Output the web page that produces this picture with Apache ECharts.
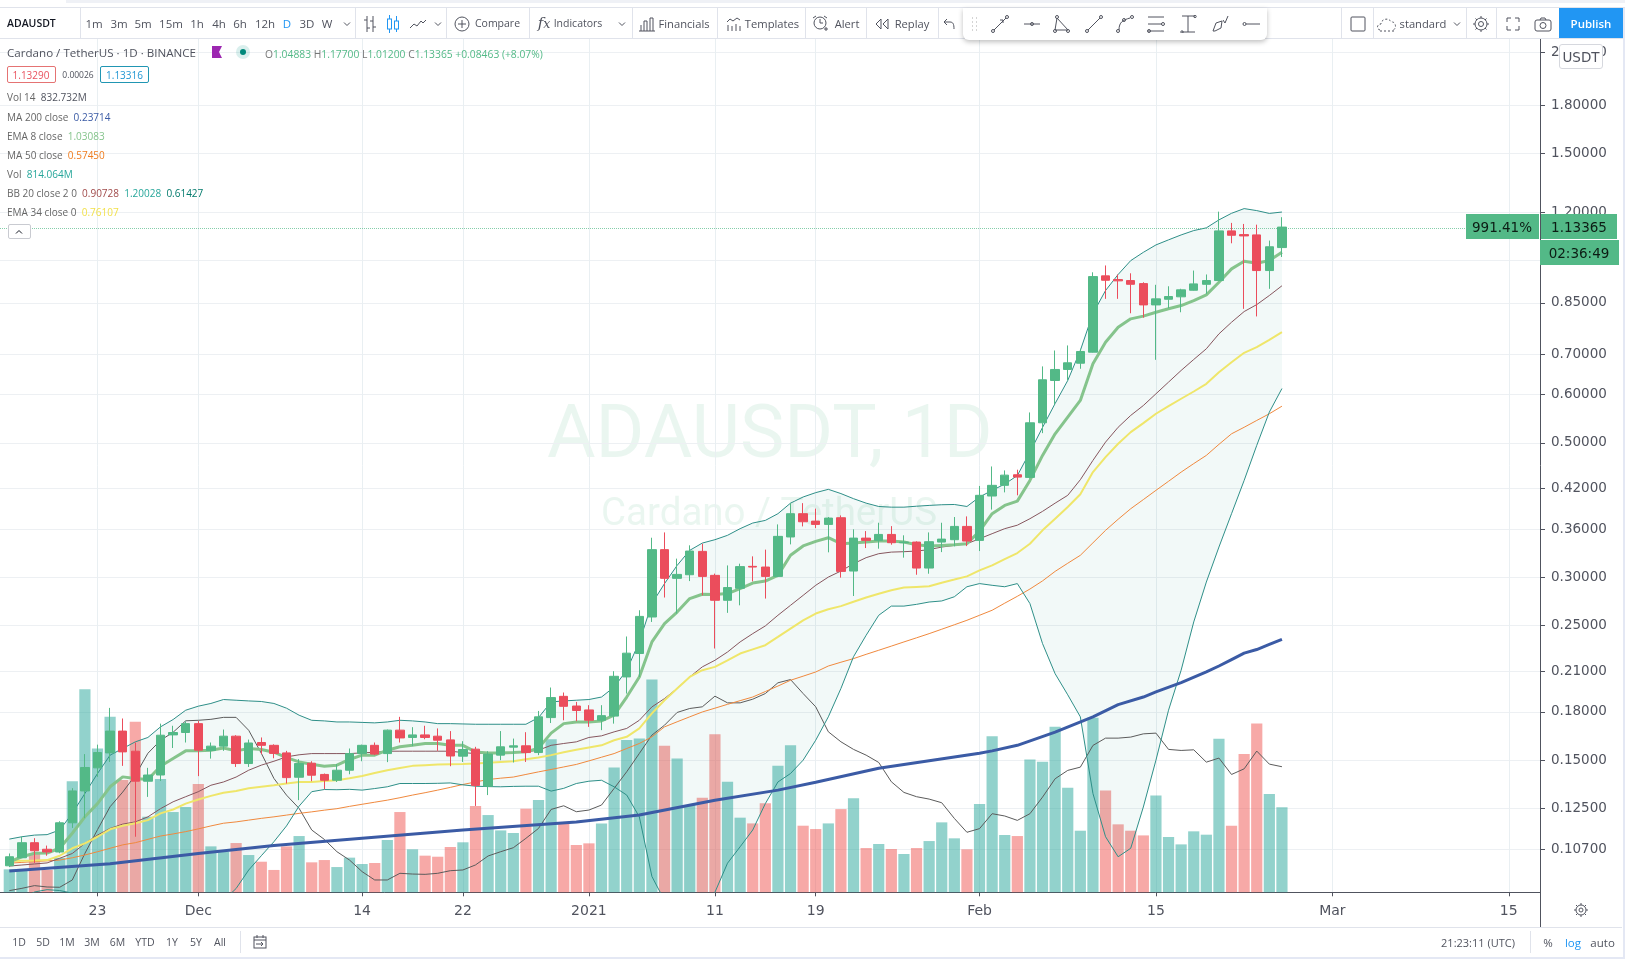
<!DOCTYPE html>
<html><head><meta charset="utf-8"><title>ADAUSDT 1D</title>
<script src="https://cdn.jsdelivr.net/npm/echarts@6/dist/echarts.min.js"></script>
<style>
html,body{margin:0;padding:0;background:#fff;width:1625px;height:959px;overflow:hidden}
#chart{position:absolute;left:0;top:0;width:1625px;height:959px}
#ui{position:absolute;left:0;top:0;width:1625px;height:959px;pointer-events:none;font-family:"Open Sans",sans-serif;color:#50535e}
#ui>*{position:absolute;white-space:nowrap}
#ui svg{display:block}
</style></head><body>
<div id="chart"></div><div id="ui"></div>
<script>
const firstDay = Date.UTC(2020, 10, 16);
const DAY = 86400000;

const opens = [.1004,.1035,.1096,.1069,.1058,.1182,.1334,.1456,.1541,.1674,
.1551,.1384,.1417,.1650,.1665,.1722,.1555,.1581,.1642,.1480,
.1603,.1586,.1541,.1405,.1482,.1420,.1389,.1443,.1537,.1586,
.1537,.1680,.1634,.1650,.1642,.1619,.1522,.1563,.1358,.1528,
.1575,.1583,.1543,.1762,.1910,.1841,.1814,.1744,.1772,.2056,
.2247,.2581,.3333,.2989,.3030,.3311,.3023,.2750,.2878,.3128,
.3120,.3011,.3497,.3820,.3714,.3668,.3762,.3073,.3482,.3452,
.3531,.3422,.3430,.3108,.3430,.3461,.3640,.3452,.4085,.4254,
.4428,.4384,.5394,.6333,.6604,.6762,.7051,.9420,.9288,.9254,
.9148,.8437,.8620,.8700,.8920,.9124,.9254,1.1174,1.1017,1.1005,
.9612,1.04883];
const closes = [.1039,.1096,.1063,.1058,.1182,.1334,.1458,.1543,.1674,.1547,
.1384,.1417,.1648,.1665,.1722,.1557,.1581,.1642,.1480,.1600,
.1586,.1538,.1403,.1480,.1416,.1389,.1443,.1537,.1586,.1534,
.1680,.1631,.1650,.1634,.1617,.1523,.1561,.1362,.1534,.1577,
.1583,.1543,.1767,.1901,.1839,.1810,.1744,.1775,.2061,.2250,
.2587,.3333,.2989,.3034,.3315,.3011,.2750,.2886,.3125,.3120,
.3011,.3505,.3820,.3705,.3668,.3757,.3069,.3482,.3452,.3531,
.3422,.3430,.3108,.3435,.3469,.3640,.3443,.4096,.4254,.4422,
.4389,.5394,.6350,.6604,.6773,.7070,.9395,.9265,.9244,.9124,
.8437,.8633,.8710,.8934,.9138,.9254,1.1174,1.0990,1.0962,.9612,
1.0520,1.13365];
const highs = [.1052,.1121,.1115,.1084,.1189,.1348,.1534,.1590,.1828,.1756,
.1603,.1456,.1722,.1708,.1737,.1739,.1603,.1684,.1648,.1621,
.1634,.1592,.1553,.1505,.1493,.1425,.1477,.1567,.1590,.1603,
.1684,.1767,.1699,.1708,.1691,.1674,.1611,.1577,.1551,.1674,
.1627,.1667,.1807,.1975,.1938,.1870,.1847,.1847,.2101,.2397,
.2648,.3487,.3558,.3221,.3388,.3408,.3043,.3139,.3160,.3249,
.3333,.3668,.3976,.3976,.3894,.3772,.3795,.3600,.3576,.3691,
.3644,.3519,.3439,.3558,.3691,.3772,.3781,.4244,.4570,.4502,
.4514,.5610,.6681,.7097,.7234,.7143,.9549,.9800,.9470,.9513,
.9194,.9106,.9056,.8970,.9612,.9470,1.2020,1.1518,1.1472,1.1441,
1.0770,1.17700];
const lows = [.0999,.1034,.1015,.1043,.1053,.1159,.1203,.1407,.1489,.1467,
.1121,.1304,.1385,.1570,.1603,.1411,.1508,.1553,.1461,.1461,
.1534,.1510,.1372,.1288,.1384,.1343,.1380,.1421,.1493,.1528,
.1488,.1603,.1581,.1623,.1553,.1465,.1489,.1260,.1313,.1499,
.1486,.1489,.1528,.1726,.1744,.1738,.1701,.1680,.1722,.1930,
.2056,.2533,.2779,.2615,.2958,.2802,.2290,.2622,.2698,.2955,
.2768,.3003,.3400,.3640,.3617,.3299,.2997,.2795,.3353,.3345,
.3396,.3233,.3030,.3042,.3302,.3375,.3378,.3315,.3880,.4142,
.4096,.4367,.5186,.5782,.6333,.6621,.7043,.8634,.8634,.8174,
.8038,.6850,.8333,.8205,.8910,.8798,.9254,1.0660,.8312,.8076,
.8968,1.01200];
const volumes = [220,220,375,214,330,1065,1946,1378,1681,1075,
1633,724,1085,769,817,1037,440,389,472,357,
293,214,440,539,287,309,242,332,271,281,
501,769,412,351,341,434,479,826,740,593,
568,801,884,1467,660,453,469,660,1196,1458,
1474,2038,1404,1282,836,906,1515,1059,715,660,
852,1212,1410,638,606,660,797,900,424,463,
415,367,424,491,670,517,412,845,1496,549,
539,1273,1250,1585,1002,590,1672,976,651,590,
545,928,530,459,584,552,1471,638,1324,1617,
941,814];
const volMA = [16,38,64,51,48,118,373,600,820,960,
1121,1332,1456,1533,1643,1648,1657,1676,1676,1552,
1332,1091,931,804,597,507,389,309,198,118,
118,182,175,172,182,207,214,262,348,389,
427,517,612,794,829,772,788,836,995,1155,
1330,1506,1601,1723,1761,1777,1879,1815,1815,1850,
1904,2007,2038,1904,1777,1538,1442,1369,1314,1244,
1059,957,916,893,858,708,575,610,753,731,
689,753,912,1088,1168,1199,1407,1477,1477,1487,
1518,1525,1369,1359,1365,1247,1286,1129,1183,1353,
1228,1203];
const bbUpper = [.1111,.1121,.1128,.1130,.1150,.1225,.1321,.1425,.1528,.1567,
.1607,.1634,.1701,.1749,.1812,.1840,.1859,.1887,.1882,.1877,
.1873,.1859,.1826,.1778,.1744,.1740,.1733,.1733,.1730,.1727,
.1733,.1744,.1740,.1733,.1722,.1722,.1720,.1718,.1718,.1718,
.1718,.1718,.1762,.1870,.1877,.1882,.1887,.1905,.1978,.2109,
.2348,.2716,.2930,.3139,.3324,.3417,.3461,.3519,.3609,.3687,
.3724,.3820,.3976,.4070,.4138,.4190,.4123,.4044,.3976,.3926,
.3916,.3916,.3930,.3942,.3952,.3956,.3926,.4070,.4174,.4274,
.4415,.4826,.5300,.5804,.6333,.7097,.8166,.8910,.9470,.9983,
1.0300,1.0594,1.0800,1.1004,1.1187,1.1303,1.1650,1.1945,1.2160,1.2068,
1.1940,1.20028];
const bbLower = [.0860,.0885,.0909,.0917,.0914,.0905,.0870,.0840,.0800,.0780,
.0760,.0760,.0760,.0770,.0790,.0820,.0850,.0880,.0921,.0988,
.1043,.1100,.1168,.1259,.1330,.1341,.1340,.1342,.1338,.1346,
.1355,.1372,.1372,.1372,.1373,.1375,.1365,.1358,.1356,.1355,
.1357,.1358,.1358,.1333,.1347,.1372,.1384,.1389,.1355,.1313,
.1209,.0964,.0880,.0845,.0830,.0855,.0908,.1014,.1079,.1150,
.1271,.1380,.1425,.1499,.1617,.1767,.1968,.2220,.2408,.2598,
.2690,.2690,.2708,.2732,.2743,.2787,.2895,.2930,.2911,.2895,
.2930,.2716,.2333,.2081,.1921,.1767,.1321,.1121,.1039,.1073,
.1255,.1499,.1812,.2109,.2533,.2947,.3366,.3820,.4334,.4950,
.5617,.61427];
const bbMiddle = [.1003,.1007,.1011,.1015,.1033,.1052,.1093,.1128,.1157,.1176,
.1186,.1209,.1247,.1280,.1305,.1330,.1363,.1380,.1406,.1443,
.1471,.1493,.1518,.1530,.1537,.1537,.1537,.1537,.1541,.1545,
.1551,.1551,.1551,.1551,.1551,.1551,.1543,.1537,.1541,.1541,
.1544,.1547,.1557,.1586,.1597,.1607,.1634,.1644,.1669,.1691,
.1744,.1835,.1894,.1968,.2056,.2136,.2190,.2260,.2348,.2423,
.2495,.2598,.2698,.2802,.2911,.3003,.3073,.3160,.3233,.3282,
.3302,.3307,.3315,.3333,.3366,.3387,.3409,.3474,.3541,.3609,
.3657,.3748,.3854,.3976,.4096,.4346,.4676,.5012,.5303,.5547,
.5759,.6021,.6294,.6579,.6859,.7143,.7559,.7900,.8227,.8447,
.8743,.90728];
const ema8 = [.1019,.1039,.1053,.1054,.1073,.1136,.1209,.1271,.1355,.1407,
.1398,.1393,.1465,.1509,.1553,.1553,.1557,.1570,.1553,.1567,
.1561,.1545,.1514,.1489,.1476,.1465,.1471,.1503,.1528,.1528,
.1557,.1577,.1586,.1597,.1597,.1586,.1586,.1547,.1541,.1541,
.1543,.1547,.1569,.1661,.1722,.1733,.1733,.1740,.1778,.1905,
.2056,.2348,.2517,.2630,.2768,.2814,.2811,.2821,.2875,.2936,
.2958,.3023,.3262,.3380,.3439,.3487,.3409,.3417,.3430,.3443,
.3443,.3430,.3396,.3378,.3387,.3396,.3409,.3574,.3820,.3942,
.4007,.4334,.4766,.5173,.5512,.5871,.6746,.7323,.7752,.8002,
.8086,.8206,.8313,.8416,.8578,.8765,.9194,.9674,.9957,.9880,
.9983,1.03083];
const ema34 = [.1022,.1023,.1024,.1026,.1043,.1073,.1093,.1121,.1153,.1169,
.1180,.1194,.1225,.1243,.1271,.1291,.1309,.1325,.1334,.1347,
.1355,.1363,.1372,.1380,.1380,.1385,.1389,.1400,.1412,.1428,
.1443,.1455,.1467,.1471,.1475,.1476,.1477,.1480,.1484,.1489,
.1493,.1504,.1514,.1528,.1545,.1560,.1573,.1586,.1617,.1638,
.1691,.1790,.1882,.1968,.2056,.2109,.2136,.2190,.2247,.2283,
.2319,.2393,.2470,.2549,.2615,.2658,.2690,.2735,.2780,.2820,
.2857,.2886,.2893,.2900,.2940,.2975,.3011,.3081,.3139,.3215,
.3290,.3409,.3586,.3748,.3918,.4112,.4473,.4735,.4981,.5206,
.5387,.5582,.5746,.5909,.6074,.6253,.6536,.6788,.7035,.7190,
.7390,.76107];
const ma50 = [.1014,.1017,.1020,.1023,.1026,.1035,.1046,.1059,.1073,.1087,
.1096,.1110,.1124,.1133,.1143,.1155,.1168,.1180,.1186,.1194,
.1202,.1209,.1217,.1225,.1232,.1240,.1247,.1258,.1268,.1278,
.1288,.1300,.1313,.1325,.1338,.1352,.1367,.1380,.1393,.1400,
.1406,.1420,.1434,.1447,.1461,.1475,.1495,.1516,.1537,.1567,
.1597,.1638,.1701,.1734,.1767,.1800,.1826,.1853,.1879,.1905,
.1945,.1986,.2030,.2062,.2095,.2143,.2174,.2204,.2240,.2275,
.2311,.2348,.2385,.2423,.2464,.2506,.2549,.2598,.2648,.2720,
.2792,.2870,.2960,.3069,.3165,.3262,.3420,.3586,.3740,.3893,
.4030,.4174,.4320,.4473,.4620,.4766,.4970,.5173,.5303,.5442,
.5582,.5745];
const ma200Days = [0,8,15,21,28,36,45,50,56,61,64,69,77,78,80,83,86,88,90,91,93,95,96,97,98,99,100,101];
const ma200Vals = [.0984,.1012,.1052,.1084,.1115,.1150,.1186,.1217,.1288,.1338,.1379,.1454,.1539,.1553,.1586,.1667,.1767,.1851,.1905,.1942,.2012,.2095,.2143,.2196,.2250,.2281,.2326,.23714];

const priceTicks = [2.2,1.8,1.5,1.2,1.0,.85,.7,.6,.5,.42,.36,.3,.25,.21,.18,.15,.125,.107];
const xTickDates = ['2020-11-23','2020-12-01','2020-12-14','2020-12-22','2021-01-01','2021-01-11','2021-01-19','2021-02-01','2021-02-15','2021-03-01','2021-03-15'];
const xTickLabels = ['23','Dec','14','22','2021','11','19','Feb','15','Mar','15'];
const lastPrice = 1.13365;

const t = i => firstDay + i * DAY;
const tickTimes = xTickDates.map(d => Date.parse(d + 'T00:00:00Z'));
const pair = arr => arr.map((v, i) => [t(i), v]);
const UP = '#53b987', DOWN = '#eb4d5c';
const line = (name, data, color, width, yAxisIndex, z) => ({
  name, type: 'line', data, yAxisIndex: yAxisIndex || 0, symbol: 'none', z: z || 3,
  lineStyle: { color, width }, silent: true, animation: false
});

const chart = echarts.init(document.getElementById('chart'), null, { width: 1625, height: 959 });
chart.setOption({
  animation: false, backgroundColor: '#fff',
  grid: { left: 0, right: 85, top: 39, bottom: 66.7, containLabel: false },
  xAxis: {
    type: 'value', min: t(-0.738), max: t(121.48), scale: true,
    axisLine: { lineStyle: { color: '#50535e', width: 1 } },
    axisTick: { show: true, length: 4, customValues: tickTimes, lineStyle: { color: '#50535e' } },
    splitLine: { show: true, lineStyle: { color: '#e9eff2', width: 1 } },
    axisLabel: {
      customValues: tickTimes, margin: 12, color: '#50535e', fontFamily: 'DejaVu Sans', fontSize: 14,
      hideOverlap: false, showMinLabel: true, showMaxLabel: true,
      formatter: v => { const k = tickTimes.indexOf(+v); return k >= 0 ? xTickLabels[k] : ''; }
    }
  },
  yAxis: [{
    type: 'log', position: 'right', min: 0.09079, max: 2.3146,
    axisLine: { show: true, lineStyle: { color: '#50535e' } },
    axisTick: { show: true, length: 5, customValues: priceTicks, lineStyle: { color: '#50535e' } },
    minorTick: { show: false }, minorSplitLine: { show: false },
    splitLine: { show: true, lineStyle: { color: '#edf0f3', width: 1 } },
    axisLabel: {
      customValues: priceTicks, margin: 11, color: '#50535e', fontFamily: 'DejaVu Sans', fontSize: 13.5,
      hideOverlap: false, showMinLabel: true, showMaxLabel: true, padding: [2, 0, 0, 0],
      formatter: v => (+v).toFixed(5)
    }
  }, {
    type: 'value', position: 'right', min: 0, max: 8175, show: false, splitLine: { show: false }
  }],
  graphic: [
    { type: 'text', left: 547, top: 401, z: 0, silent: true,
      style: { text: 'ADAUSDT, 1D', font: '74.5px Roboto', fill: 'rgba(83,185,135,0.12)' } },
    { type: 'text', left: 601, top: 496, z: 0, silent: true,
      style: { text: 'Cardano / TetherUS', font: '38.5px Roboto', fill: 'rgba(83,185,135,0.12)' } }
  ],
  series: [
    { name: 'Vol', type: 'bar', yAxisIndex: 1, barWidth: 11.2, z: 1, silent: true,
      data: volumes.map((v, i) => ({ value: [t(i), v], itemStyle: { color: closes[i] >= opens[i] ? 'rgba(38,166,154,0.5)' : 'rgba(239,83,80,0.5)' } })) },
    { name: 'BB band', type: 'custom', z: 2, silent: true, clip: true, yAxisIndex: 0,
      data: [[t(0), bbUpper[0]]],
      renderItem: (params, api) => {
        const pts = bbUpper.map((v, i) => api.coord([t(i), v]));
        for (let i = bbLower.length - 1; i >= 0; i--) pts.push(api.coord([t(i), bbLower[i]]));
        return { type: 'polygon', shape: { points: pts }, style: { fill: 'rgba(33,150,143,0.06)' } };
      } },
    line('Vol 14', pair(volMA), '#5b5b5b', 1, 1),
    line('MA 50', pair(ma50), '#f0893e', 1),
    line('BB basis', pair(bbMiddle), '#86565e', 1),
    line('BB upper', pair(bbUpper), '#2e8f88', 1),
    line('BB lower', pair(bbLower), '#2e8f88', 1),
    line('EMA 34', pair(ema34), '#efe66a', 2),
    line('EMA 8', pair(ema8), '#85c48c', 3),
    line('MA 200', ma200Days.map((d, k) => [t(d), ma200Vals[k]]), '#3b5ba5', 3, 0, 4),
    { name: 'ADAUSDT', type: 'candlestick', z: 5, silent: true, barWidth: 9,
      data: opens.map((o, i) => [t(i), o, closes[i], lows[i], highs[i]]),
      itemStyle: { color: UP, color0: DOWN, borderColor: UP, borderColor0: DOWN, borderWidth: 1 },
      markLine: { silent: true, symbol: 'none', animation: false, label: { show: false },
        lineStyle: { color: UP, type: 'dotted', width: 1, opacity: 0.7 }, data: [{ yAxis: lastPrice }] } }
  ]
});

/* ---- surrounding terminal chrome ---- */
const ui = document.getElementById('ui');
function el(css, html) { const d = document.createElement('div'); d.style.cssText = css; if (html != null) d.innerHTML = html; ui.appendChild(d); return d; }
function rect(x, y, w, h, c, extra) { return el(`left:${x}px;top:${y}px;width:${w}px;height:${h}px;background:${c};${extra || ''}`); }
function txt(s, cx, cy, o) { o = o || {};
  return el(`left:${cx}px;top:${cy}px;transform:translate(${o.left ? 0 : -50}%,-50%);font-size:${o.size || 12}px;color:${o.color || '#50535e'};font-family:${o.font || '"Open Sans",sans-serif'};${o.extra || ''}`, s); }
function icon(cx, cy, w, h, inner, color) {
  return el(`left:${cx - w / 2}px;top:${cy - h / 2}px;width:${w}px;height:${h}px`,
    `<svg width="${w}" height="${h}" viewBox="0 0 ${w} ${h}" fill="none" stroke="${color || '#50535e'}" stroke-width="1">${inner}</svg>`);
}
const LN = '#e0e3eb';
rect(66, 0, 1559, 3, '#eff1f6');
rect(0, 7, 1625, 1, LN);
rect(0, 38, 1625, 1, LN);
rect(1622.7, 8, 2.3, 951, '#e4e8f4');
rect(0, 957, 1625, 2, '#e4e8f4');
rect(0, 926.5, 1622, 1, LN);
rect(1540, 892, 1, 35, '#50535e');

txt('ADAUSDT', 7, 23, { left: 1, size: 10.5, color: '#131722', extra: 'font-weight:600' });
[80, 355, 446, 529, 632, 717, 805, 866, 938, 1341, 1373, 1466, 1496].forEach(x => rect(x, 8, 1, 30, LN));
const tf = [['1m',94],['3m',119],['5m',143],['15m',171],['1h',197],['4h',219],['6h',240],['12h',265],['D',287],['3D',307],['W',327]];
tf.forEach(([s, x]) => txt(s, x, 23, { size: 11.5, color: s === 'D' ? '#2196f3' : '#50535e' }));
const chev = '<path d="M1 1.5l3 3 3-3"/>';
[347, 438, 622, 1457].forEach(x => icon(x, 24, 8, 6, chev));
icon(370, 24, 14, 18, '<path d="M4 1v16M10 1v16M1 5h3M4 13h3M7 6h3M10 12h3"/>');
icon(393, 24, 14, 20, '<rect x="1.5" y="5" width="4" height="10"/><rect x="8.5" y="7" width="4" height="8"/><path d="M3.5 1v4M3.5 15v4M10.5 2v5M10.5 15v3"/>', '#2196f3');
icon(418, 24, 18, 10, '<path d="M1 9l4-4 3 2 4-5 2 2 3-3"/>');
icon(462, 24, 16, 16, '<circle cx="8" cy="8" r="7"/><path d="M8 4v8M4 8h8"/>');
txt('Compare', 497.5, 23, { size: 10.5 });
txt('<i>f<small>x</small></i>', 544, 23, { size: 15, font: 'DejaVu Serif,serif' });
txt('Indicators', 578, 23, { size: 10.5 });
icon(647, 24, 16, 15, '<path d="M0 14h16M2 14V8M5 14V4h3v10M11 14V1h3v13"/>');
txt('Financials', 684, 23, { size: 11.2 });
icon(734, 24, 16, 15, '<path d="M1 5l3-3 3 2 4-3 3 2M2 14V8M6 14v-5M10 14V7M14 14V9"/>');
txt('Templates', 772, 23, { size: 11.2 });
icon(820, 24, 16, 18, '<circle cx="8" cy="8" r="6"/><path d="M8 4v4h3M1 3l3-2M15 3l-3-2M12 14h4M14 12v4"/>');
txt('Alert', 847, 23, { size: 11.2 });
icon(882, 24, 14, 12, '<path d="M6 1L1 6l5 5zM13 1L8 6l5 5z"/>');
txt('Replay', 912, 23, { size: 11.2 });
icon(949, 24, 12, 12, '<path d="M4 1L1 4l3 3M1 4h6c3 0 4 2 4 7"/>');

rect(963, 8, 304, 32, '#fff', 'border-radius:0 0 6px 6px;box-shadow:0 2px 5px rgba(0,0,0,.25)');
icon(974, 24, 6, 14, '<path d="M1 1h1M5 1h1M1 5h1M5 5h1M1 9h1M5 9h1M1 13h1M5 13h1" stroke="#aaa"/>');
[[1000,'<path d="M3 15L15 3M9 5l3 0 0 3"/><circle cx="2" cy="16" r="1.5"/><circle cx="16" cy="2" r="1.5"/>'],
 [1032,'<path d="M1 9h16"/><circle cx="9" cy="9" r="1.5"/>'],
 [1062,'<path d="M4 3L2 15h13z"/><circle cx="4" cy="2" r="1.5"/><circle cx="2" cy="16" r="1.5"/><circle cx="15" cy="16" r="1.5"/>'],
 [1094,'<path d="M3 15L15 3"/><circle cx="2" cy="16" r="1.5"/><circle cx="16" cy="2" r="1.5"/>'],
 [1125,'<path d="M3 15c0-8 4-10 11-12"/><circle cx="2" cy="16" r="1.5"/><circle cx="8" cy="5" r="1.5"/><circle cx="16" cy="2" r="1.5"/>'],
 [1156,'<path d="M1 2h16M1 9h14M1 16h16"/><circle cx="16" cy="9" r="1.5"/><circle cx="2" cy="16" r="1.5"/>'],
 [1188,'<path d="M9 1v16M3 1h13M3 17h13"/><circle cx="16" cy="1.5" r="1.2"/><circle cx="3" cy="17" r="1.2"/>'],
 [1220,'<path d="M2 16l3-8 6-2-1 7-6 3zM12 5l2 3 3-7"/>'],
 [1251,'<path d="M4 9h14"/><circle cx="2.5" cy="9" r="1.5"/>']
].forEach(([x, p]) => icon(x, 24, 18, 18, p));

icon(1358, 24, 16, 16, '<rect x="1" y="1" width="14" height="14" rx="1"/>');
icon(1387, 24, 20, 16, '<path d="M3 14c-4-1-3-6 1-6 0-5 8-7 10-2 5-1 6 7 2 8" stroke-dasharray="2 2"/><path d="M3 15h14" stroke-dasharray="2 2"/>');
txt('standard', 1423, 23, { size: 11.2 });
icon(1481, 24, 16, 16, '<circle cx="8" cy="8" r="2.5"/><circle cx="8" cy="8" r="6"/><path d="M8 0v2M8 14v2M0 8h2M14 8h2M2.5 2.5l1.5 1.5M12 12l1.5 1.5M2.5 13.5L4 12M12 4l1.5-1.5"/>');
icon(1513, 24, 14, 14, '<path d="M1 5V1h4M9 1h4v4M13 9v4H9M5 13H1V9"/>');
icon(1543, 24, 18, 15, '<rect x="1" y="3" width="16" height="11" rx="2"/><circle cx="9" cy="8.5" r="3"/><path d="M6 3l1-2h4l1 2"/>');
rect(1559, 8, 63.6, 30, '#2196f3');
txt('Publish', 1591, 22.5, { color: '#fff', size: 11.5, extra: 'font-weight:600' });

/* legend */
txt('Cardano / TetherUS · 1D · BINANCE', 7, 51.5, { left: 1, size: 11.6, color: '#50535e' });
icon(217, 52, 11, 12, '<path d="M0 0h10L7 6l3 6H0z" fill="#9c27b0" stroke="none"/>');
rect(236, 45, 14, 14, 'rgba(0,150,136,.15)', 'border-radius:50%');
rect(240, 49, 6, 6, '#00897b', 'border-radius:50%');
const G = '#53b987', Gl = '#777';
txt(`<span style="color:${Gl}">O</span>1.04883 <span style="color:${Gl}">H</span>1.17700 <span style="color:${Gl}">L</span>1.01200 <span style="color:${Gl}">C</span>1.13365 +0.08463 (+8.07%)`, 265, 54, { left: 1, size: 10.3, color: G });
rect(6.5, 66, 49, 17, '#fff', 'border:1px solid #e57373;border-radius:2px;box-sizing:border-box');
txt('1.13290', 31, 74.5, { size: 10, color: '#e9535f' });
txt('0.00026', 78, 74, { size: 8.5, color: '#50535e' });
rect(100, 66, 49, 17, '#fff', 'border:1px solid #2196b3;border-radius:2px;box-sizing:border-box');
txt('1.13316', 124.5, 74.5, { size: 10, color: '#2196d3' });
[['Vol 14', '832.732M', '#50535e', 97],
 ['MA 200 close', '0.23714', '#3b5ba5', 117],
 ['EMA 8 close', '1.03083', '#85c48c', 136],
 ['MA 50 close', '0.57450', '#ef7c1e', 155],
 ['Vol', '814.064M', '#26a69a', 174],
 ['EMA 34 close 0', '0.76107', '#f2e14c', 212]
].forEach(([a, b, c, y]) => txt(`${a} &nbsp;<span style="color:${c}">${b}</span>`, 7, y, { left: 1, size: 10, color: '#666' }));
txt('BB 20 close 2 0 &nbsp;<span style="color:#a04a4a">0.90728</span> &nbsp;<span style="color:#26a69a">1.20028</span> &nbsp;<span style="color:#00796b">0.61427</span>', 7, 193, { left: 1, size: 10, color: '#666' });
rect(8, 224, 23, 15, '#fff', 'border:1px solid #c9cbd1;border-radius:2px;box-sizing:border-box');
icon(19, 231.5, 8, 6, '<path d="M1 4.5l3-3 3 3" stroke="#131722"/>');

/* price flags */
rect(1465.7, 214, 73.5, 25, G);
rect(1540.5, 214, 76.2, 25, G);
rect(1540, 240, 79, 25, G);
txt('991.41%', 1502, 226.5, { font: 'DejaVu Sans', size: 13.5, color: '#0c1d14' });
txt('1.13365', 1579, 226.5, { font: 'DejaVu Sans', size: 13.5, color: '#0c1d14' });
txt('02:36:49', 1579, 252.5, { font: 'DejaVu Sans', size: 13.5, color: '#0c1d14' });
rect(1559, 44, 44, 25, '#fff', 'border:1px solid #d6d8de;border-radius:3px;box-sizing:border-box');
txt('USDT', 1581, 56.5, { font: 'DejaVu Sans', size: 13.5, color: '#50535e' });
icon(1581, 910, 14, 14, '<circle cx="7" cy="7" r="2"/><circle cx="7" cy="7" r="5"/><path d="M7 0v2M7 12v2M0 7h2M12 7h2M2 2l1.5 1.5M10.5 10.5L12 12M2 12l1.5-1.5M10.5 3.5L12 2"/>');

/* bottom bar */
[['1D',19],['5D',43],['1M',67],['3M',92],['6M',117.5],['YTD',145],['1Y',172],['5Y',196],['All',220]].forEach(([s, x]) => txt(s, x, 942, { size: 10.5 }));
rect(239.5, 931, 1, 22, LN);
icon(260, 942, 14, 14, '<rect x="1" y="2" width="12" height="11"/><path d="M1 5h12M4 0v3M10 0v3M3 9h7M8 7l2 2-2 2"/>');
txt('21:23:11 (UTC)', 1478, 942, { size: 11 });
rect(1530, 931, 1, 22, LN);
txt('%', 1548, 942, { size: 11.5 });
txt('log', 1573, 942, { size: 11.5, color: '#2196f3' });
txt('auto', 1602.6, 942, { size: 11.5 });
</script>
</body></html>
